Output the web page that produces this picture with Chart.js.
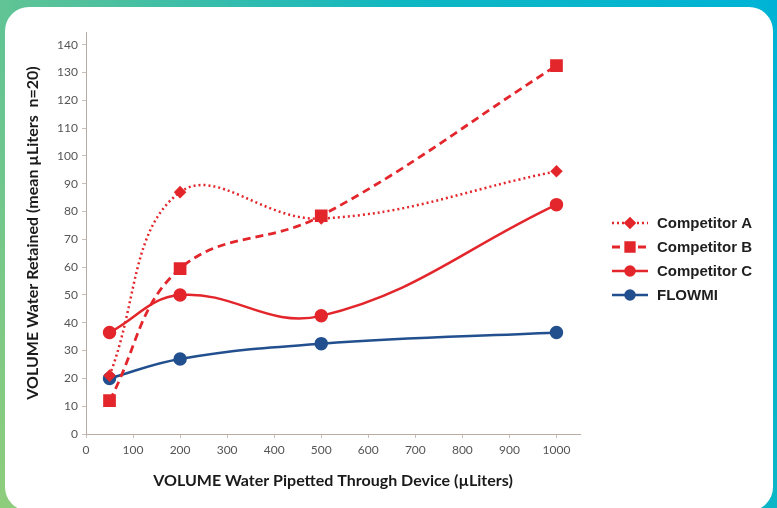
<!DOCTYPE html>
<html>
<head>
<meta charset="utf-8">
<script src="https://cdn.jsdelivr.net/npm/chart.js@4/dist/chart.umd.min.js"></script>
<style>
  html, body { margin: 0; padding: 0; }
  body {
    width: 777px; height: 508px; overflow: hidden; position: relative;
    background: linear-gradient(60deg, #8fcd7c 0%, #52c19c 35%, #0fb7c2 65%, #00b3d6 100%);
  }
  #panel {
    position: absolute; left: 5px; top: 7px; width: 768px; height: 504px;
    background: #fff; border-radius: 24px;
  }
  #chart { position: absolute; left: 0; top: 0; }
</style>
</head>
<body>
<div id="panel"></div>
<canvas id="chart" width="777" height="508"></canvas>
<script>
// values
var volumes = [50, 200, 500, 1000];
var competitorA = [21, 87, 77.5, 94.5];
var competitorB = [12, 59.5, 78.5, 132.5];
var competitorC = [36.5, 50, 42.5, 82.5];
var flowmi = [20, 27, 32.5, 36.5];
var seriesNames = ['Competitor A', 'Competitor B', 'Competitor C', 'FLOWMI'];
var xTicks = [0, 100, 200, 300, 400, 500, 600, 700, 800, 900, 1000];
var yTicks = [0, 10, 20, 30, 40, 50, 60, 70, 80, 90, 100, 110, 120, 130, 140];

var red = '#e3262b';
var blue = '#22508e';

function toPoints(vals) {
  return volumes.map(function (v, i) { return { x: v, y: vals[i] }; });
}

// legend drawn by hand: line sample with marker, like the office chart
var sideLegend = {
  id: 'sideLegend',
  afterDraw: function (chart) {
    var ctx = chart.ctx;
    var x0 = 612, y0 = 223, gap = 24;
    chart.data.datasets.forEach(function (ds, i) {
      var y = y0 + i * gap;
      ctx.save();
      ctx.strokeStyle = ds.borderColor;
      ctx.lineWidth = ds.borderWidth;
      ctx.setLineDash(ds.borderDash || []);
      ctx.beginPath();
      ctx.moveTo(x0, y);
      ctx.lineTo(x0 + 36, y);
      ctx.stroke();
      ctx.setLineDash([]);
      Chart.helpers.drawPoint(ctx, {
        pointStyle: ds.pointStyle,
        radius: ds.legendRadius,
        borderWidth: 1,
        rotation: 0
      }, x0 + 18, y);
      ctx.fillStyle = ds.borderColor;
      ctx.fill();
      ctx.fillStyle = '#1e1e1e';
      ctx.font = 'bold 15px "Liberation Sans", Arial, sans-serif';
      ctx.textBaseline = 'middle';
      ctx.fillText(seriesNames[i], x0 + 45, y + 1);
      ctx.restore();
    });
  }
};

function plainLabel(value) { return String(value); }

var ctx = document.getElementById('chart').getContext('2d');
var myChart = new Chart(ctx, {
  type: 'line',
  data: {
    datasets: [{
      label: seriesNames[0],
      data: toPoints(competitorA),
      borderColor: red, backgroundColor: red,
      borderWidth: 2.5, borderDash: [2, 3],
      pointStyle: 'rectRot', pointRadius: 4.5, legendRadius: 4.5
    }, {
      label: seriesNames[1],
      data: toPoints(competitorB),
      borderColor: red, backgroundColor: red,
      borderWidth: 2.8, borderDash: [8, 5],
      pointStyle: 'rect', pointRadius: 7, legendRadius: 6
    }, {
      label: seriesNames[2],
      data: toPoints(competitorC),
      borderColor: red, backgroundColor: red,
      borderWidth: 2.5,
      pointStyle: 'circle', pointRadius: 5.5, legendRadius: 4.5
    }, {
      label: seriesNames[3],
      data: toPoints(flowmi),
      borderColor: blue, backgroundColor: blue,
      borderWidth: 2.5,
      pointStyle: 'circle', pointRadius: 5.5, legendRadius: 4.5
    }]
  },
  options: {
    responsive: false,
    animation: false,
    layout: { padding: { left: 0, top: 32, right: 197, bottom: 0 } },
    elements: {
      line: { tension: 0.4, fill: false },
      point: { borderWidth: 1, hoverRadius: 6 }
    },
    plugins: {
      legend: { display: false },
      tooltip: { enabled: false }
    },
    scales: {
      x: {
        type: 'linear', min: 0, max: 1050,
        afterBuildTicks: function (axis) {
          axis.ticks = xTicks.map(function (v) { return { value: v }; });
        },
        afterFit: function (scale) { scale.height = 74; },
        grid: { drawOnChartArea: false, drawTicks: true, tickLength: 4, color: '#c8bdb7' },
        border: { color: '#b9aca5', width: 1 },
        ticks: { color: '#555', padding: 5, callback: plainLabel, font: { family: 'Lato', size: 12 } },
        title: {
          display: true,
          text: 'VOLUME Water Pipetted Through Device (\u00b5Liters)',
          color: '#1a1a1a',
          padding: { top: 0, bottom: 18 },
          font: { family: 'Lato', size: 16, weight: 'bold' }
        }
      },
      y: {
        type: 'linear', min: 0, max: 144.6,
        afterBuildTicks: function (axis) {
          axis.ticks = yTicks.map(function (v) { return { value: v }; });
        },
        afterFit: function (scale) { scale.width = 86; },
        grid: { drawOnChartArea: false, drawTicks: true, tickLength: 4, color: '#c8bdb7' },
        border: { color: '#b9aca5', width: 1 },
        ticks: { color: '#555', padding: 4, callback: plainLabel, font: { family: 'Lato', size: 12 } },
        title: {
          display: true,
          text: 'VOLUME Water Retained (mean \u00b5Liters  n=20)',
          color: '#1a1a1a',
          padding: { top: 23, bottom: 0 },
          font: { family: 'Lato', size: 16, weight: 'bold' }
        }
      }
    }
  },
  plugins: [sideLegend]
});
</script>
</body>
</html>
